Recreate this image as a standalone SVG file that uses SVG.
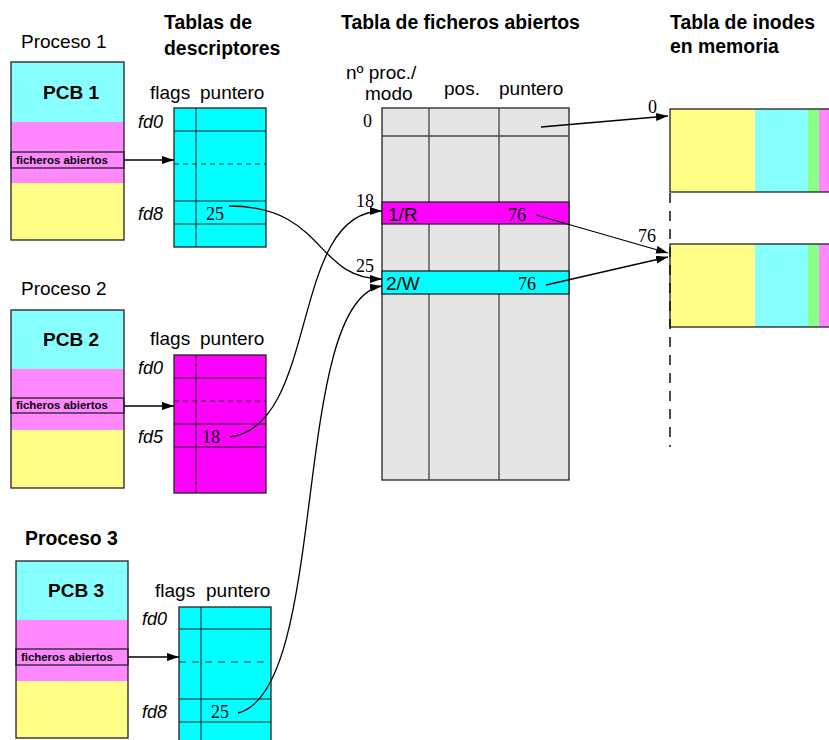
<svg xmlns="http://www.w3.org/2000/svg" width="829" height="740" viewBox="0 0 829 740">
<style>
  .title { font-family: "Liberation Sans", Arial, sans-serif; font-weight: bold; font-size: 19.4px; }
  .lbl { font-family: "Liberation Sans", Arial, sans-serif; font-size: 19px; }
  .pcb { font-family: "Liberation Sans", Arial, sans-serif; font-weight: bold; font-size: 19px; }
  .small { font-family: "Liberation Sans", Arial, sans-serif; font-weight: bold; font-size: 11.4px; }
  .fd { font-family: "Liberation Sans", Arial, sans-serif; font-style: italic; font-size: 18px; }
  .num { font-family: "Liberation Serif", "Times New Roman", serif; font-size: 18px; }
  .box { stroke: #222; stroke-width: 1.3; }
  .grid { stroke: #222; stroke-width: 1; fill: none; }
  .dash { stroke: #222; stroke-width: 1; stroke-dasharray: 5 4; fill: none; }
  .conn { stroke: #000; stroke-width: 1.3; fill: none; marker-end: url(#ah); }
  .cy { fill: #88ffff; } .pk { fill: #ff88ff; } .yl { fill: #ffff88; } .gr { fill: #88ff88; }
</style>
<defs>
  <marker id="ah" viewBox="0 0 12 8" refX="12" refY="4" markerWidth="12" markerHeight="8" markerUnits="userSpaceOnUse" orient="auto">
    <path d="M0,0 L12,4 L0,8 z" fill="#000"/>
  </marker>
</defs>
<rect width="829" height="740" fill="#fff"/>

<!-- headings -->
<g id="headings">
  <text class="title" x="164" y="29">Tablas de</text>
  <text class="title" x="164" y="55">descriptores</text>
  <text class="title" x="341" y="29">Tabla de ficheros abiertos</text>
  <text class="title" x="670" y="29">Tabla de inodes</text>
  <text class="title" x="670" y="53">en memoria</text>
</g>

<!-- process 1 -->
<g id="pcb1">
  <text class="lbl" x="21" y="48">Proceso 1</text>
  <rect x="11" y="62" width="113" height="60" class="cy"/>
  <rect x="11" y="122" width="113" height="61" class="pk"/>
  <rect x="11" y="183" width="113" height="57" class="yl"/>
  <rect x="11" y="152" width="113" height="16" fill="none" class="box"/>
  <rect x="11" y="62" width="113" height="178" fill="none" class="box"/>
  <text class="pcb" x="43" y="99">PCB 1</text>
  <text class="small" x="16" y="164">ficheros abiertos</text>
</g>
<g id="fdtable1">
  <text class="lbl" x="150" y="99">flags</text>
  <text class="lbl" x="200" y="99">puntero</text>
  <rect x="174" y="108" width="92" height="139" fill="#00ffff" class="box"/>
  <path class="grid" d="M196 108V247 M174 131H266 M174 201H266 M174 224H266"/>
  <path class="dash" d="M174 164H266"/>
  <text class="fd" x="138" y="128">fd0</text>
  <text class="fd" x="138" y="220">fd8</text>
  <text class="num" x="206" y="220">25</text>
</g>

<!-- process 2 -->
<g id="pcb2">
  <text class="lbl" x="21" y="295">Proceso 2</text>
  <rect x="11" y="310" width="113" height="59" class="cy"/>
  <rect x="11" y="369" width="113" height="61" class="pk"/>
  <rect x="11" y="430" width="113" height="58" class="yl"/>
  <rect x="11" y="398" width="113" height="15" fill="none" class="box"/>
  <rect x="11" y="310" width="113" height="178" fill="none" class="box"/>
  <text class="pcb" x="43" y="346">PCB 2</text>
  <text class="small" x="16" y="409">ficheros abiertos</text>
</g>
<g id="fdtable2">
  <text class="lbl" x="150" y="345">flags</text>
  <text class="lbl" x="200" y="345">puntero</text>
  <rect x="174" y="355" width="92" height="138" fill="#ff00ff" class="box"/>
  <path class="grid" d="M196 355V493 M174 378H266 M174 424H266 M174 447H266"/>
  <path class="dash" d="M174 401H266"/>
  <text class="fd" x="138" y="374">fd0</text>
  <text class="fd" x="138" y="443">fd5</text>
  <text class="num" x="202" y="443">18</text>
</g>

<!-- process 3 -->
<g id="pcb3">
  <text class="title" x="25" y="545">Proceso 3</text>
  <rect x="16" y="561" width="112" height="59" class="cy"/>
  <rect x="16" y="620" width="112" height="61" class="pk"/>
  <rect x="16" y="681" width="112" height="57" class="yl"/>
  <rect x="16" y="649" width="112" height="16" fill="none" class="box"/>
  <rect x="16" y="561" width="112" height="177" fill="none" class="box"/>
  <text class="pcb" x="48" y="597">PCB 3</text>
  <text class="small" x="21" y="661">ficheros abiertos</text>
</g>
<g id="fdtable3">
  <text class="lbl" x="155" y="597">flags</text>
  <text class="lbl" x="206" y="597">puntero</text>
  <rect x="179" y="607" width="92" height="140" fill="#00ffff" class="box"/>
  <path class="grid" d="M201 607V747 M179 629H271 M179 699H271 M179 722H271"/>
  <path class="dash" d="M179 662H271" style="stroke-dasharray:7 6"/>
  <text class="fd" x="142" y="625">fd0</text>
  <text class="fd" x="142" y="718">fd8</text>
  <text class="num" x="211" y="718">25</text>
</g>

<!-- open file table -->
<g id="filetable">
  <text class="lbl" x="346" y="79">nº proc./</text>
  <text class="lbl" x="365" y="100">modo</text>
  <text class="lbl" x="444" y="95">pos.</text>
  <text class="lbl" x="499" y="95">puntero</text>
  <rect x="382" y="108" width="187" height="372" fill="#e5e5e5" class="box"/>
  <path class="grid" d="M429 108V480 M499 108V480 M382 136H569" style="stroke:#444;stroke-width:1.3"/>
  <rect x="382" y="202" width="187" height="22" fill="#ff00ff" class="box"/>
  <rect x="382" y="271" width="187" height="23" fill="#00ffff" class="box"/>
  <text class="num" x="363" y="127">0</text>
  <text class="num" x="356" y="207">18</text>
  <text class="num" x="356" y="272">25</text>
  <text class="lbl" x="388" y="221">1/R</text>
  <text class="num" x="508" y="221">76</text>
  <text class="lbl" x="386" y="290">2/W</text>
  <text class="num" x="518" y="290">76</text>
</g>

<!-- in-memory inodes -->
<g id="inode0">
  <rect x="670" y="109" width="85" height="83" class="yl"/>
  <rect x="755" y="109" width="53" height="83" class="cy"/>
  <rect x="808" y="109" width="11" height="83" class="gr"/>
  <rect x="819" y="109" width="15" height="83" class="pk"/>
  <rect x="670" y="109" width="170" height="83" fill="none" class="box"/>
  <text class="num" x="648" y="113">0</text>
</g>
<g id="inode76">
  <rect x="670" y="244" width="85" height="83" class="yl"/>
  <rect x="755" y="244" width="53" height="83" class="cy"/>
  <rect x="808" y="244" width="11" height="83" class="gr"/>
  <rect x="819" y="244" width="15" height="83" class="pk"/>
  <rect x="670" y="244" width="170" height="83" fill="none" class="box"/>
  <text class="num" x="638" y="242">76</text>
</g>
<path d="M670 193V447" stroke="#111" stroke-width="1.5" stroke-dasharray="10 8" fill="none"/>

<!-- connectors -->
<g id="connectors">
  <path class="conn" d="M124 160H174"/>
  <path class="conn" d="M124 406H174"/>
  <path class="conn" d="M128 657H179"/>
  <path class="conn" d="M229 206C325 206 315 279 382 279"/>
  <path class="conn" d="M230 437C320 425 289 211 382 211"/>
  <path class="conn" d="M238 713C330 690 290 300 382 286"/>
  <path class="conn" d="M541 127L668 116"/>
  <path class="conn" d="M536 215L668 253"/>
  <path class="conn" d="M546 285L668 257"/>
</g>
</svg>
